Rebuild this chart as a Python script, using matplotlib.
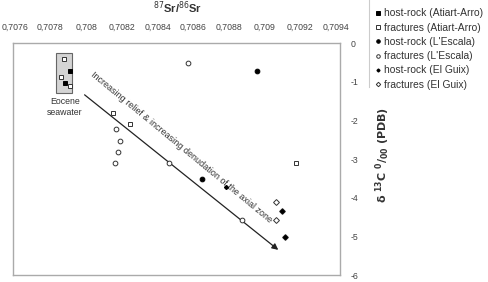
import matplotlib as mpl
import matplotlib.pyplot as plt
from matplotlib.ticker import FuncFormatter

mpl.rcParams["font.family"] = ["Liberation Sans", "DejaVu Sans"]

# ------------------------------------------------------------------
# data (87Sr/86Sr vs d13C)
# ------------------------------------------------------------------
host_atiart_x = [0.707907, 0.707880]
host_atiart_y = [-0.72, -1.03]
frac_atiart_x = [0.707874, 0.707857, 0.707907, 0.708148, 0.708243, 0.709176]
frac_atiart_y = [-0.41, -0.88, -1.11, -1.81, -2.09, -3.10]

host_escala_x = [0.708958, 0.708651]
host_escala_y = [-0.72, -3.51]
frac_escala_x = [0.708573, 0.708165, 0.708187, 0.708176, 0.708159, 0.708466, 0.708875]
frac_escala_y = [-0.52, -2.22, -2.53, -2.82, -3.10, -3.10, -4.57]

host_guix_x = [0.708785, 0.709098, 0.709115]
host_guix_y = [-3.72, -4.34, -5.01]
frac_guix_x = [0.709064, 0.709098, 0.709064, 0.709115]
frac_guix_y = [-4.11, -4.34, -4.57, -5.01]

seawater_x = [0.70783, 0.70792]
seawater_y = [-1.29, -0.26]

arrow_start = (0.707991, -1.34)
arrow_end = (0.709076, -5.35)

x_ticks = [0.7076, 0.7078, 0.708, 0.7082, 0.7084, 0.7086, 0.7088, 0.709, 0.7092, 0.7094]
y_ticks = [0, -1, -2, -3, -4, -5, -6]

# ------------------------------------------------------------------
fig = plt.figure(figsize=(4.89, 2.82), dpi=100)
ax = fig.add_axes([0.0266, 0.0248, 0.668, 0.8227])

# seawater box
ax.add_patch(plt.Rectangle((seawater_x[0], seawater_y[0]),
                           seawater_x[1] - seawater_x[0], seawater_y[1] - seawater_y[0],
                           facecolor="#d4d4d4", edgecolor="#666666", lw=0.8, zorder=1))

ms = 3.4
kw = dict(ls="none", mew=0.7, zorder=3)
ax.plot(host_atiart_x, host_atiart_y, marker="s", ms=ms, color="black", label="host-rock (Atiart-Arro)", **kw)
ax.plot(frac_atiart_x, frac_atiart_y, marker="s", ms=ms, mfc="white", mec="#333333", label="fractures (Atiart-Arro)", **kw)
ax.plot(host_escala_x, host_escala_y, marker="o", ms=ms, color="black", label="host-rock (L'Escala)", **kw)
ax.plot(frac_escala_x, frac_escala_y, marker="o", ms=ms, mfc="white", mec="#333333", label="fractures (L'Escala)", **kw)
ax.plot(host_guix_x, host_guix_y, marker="D", ms=2.0, color="black", label="host-rock (El Guix)", zorder=4, ls="none")
ax.plot(frac_guix_x, frac_guix_y, marker="D", ms=3.0, mfc="none", mec="#333333", label="fractures (El Guix)", **kw)

# trend arrow + annotation
ax.annotate("", xy=arrow_end, xytext=arrow_start,
            arrowprops=dict(arrowstyle="-|>", color="#222222", lw=0.9,
                            mutation_scale=9, shrinkA=0, shrinkB=0), zorder=2)
ax.text(0.708531, -2.685, "Increasing relief & increasing denudation of the axial zone",
        rotation=-39.5, rotation_mode="anchor", ha="center", va="center",
        fontsize=6.5, color="#333333")
ax.text(0.70788, -1.65, "Eocene\nseawater", ha="center", va="center",
        fontsize=6.3, color="#333333", linespacing=1.2)

ax.set_xlim(0.70759, 0.70942)
ax.set_ylim(-6, 0)
ax.set_xticks(x_ticks)
ax.set_yticks(y_ticks)
ax.xaxis.tick_top()
ax.yaxis.tick_right()
ax.xaxis.set_major_formatter(FuncFormatter(lambda v, p: f"{v:.5f}".rstrip("0").replace(".", ",")))
ax.yaxis.set_major_formatter(FuncFormatter(lambda v, p: f"{int(v)}"))
ax.tick_params(length=0, labelsize=6.3, labelcolor="#444444", pad=8)
ax.tick_params(axis="y", pad=8)
for sp in ax.spines.values():
    sp.set_color("#aaaaaa")
    sp.set_linewidth(1.0)

fig.text(0.364, 0.972, r"$^{87}$Sr/$^{86}$Sr", ha="center", va="center",
         fontsize=8, fontweight="bold", color="#333333")
fig.text(0.783, 0.45, r"$\mathbf{\delta\ ^{13}C\ ^{0}/_{00}\ (PDB)}$", rotation=90,
         ha="center", va="center", fontsize=8, color="#333333")

leg = fig.legend(loc="upper left", bbox_to_anchor=(0.750, 1.0), frameon=False,
                 fontsize=7.4, handlelength=0.5, handletextpad=0.4, markerscale=0.75,
                 labelspacing=0.42, borderpad=0.3, labelcolor="#333333")
fig.add_artist(plt.Line2D([0.755, 0.755], [0.69, 1.0], color="#cccccc", lw=0.8))

fig.savefig("out.png", dpi=100)
